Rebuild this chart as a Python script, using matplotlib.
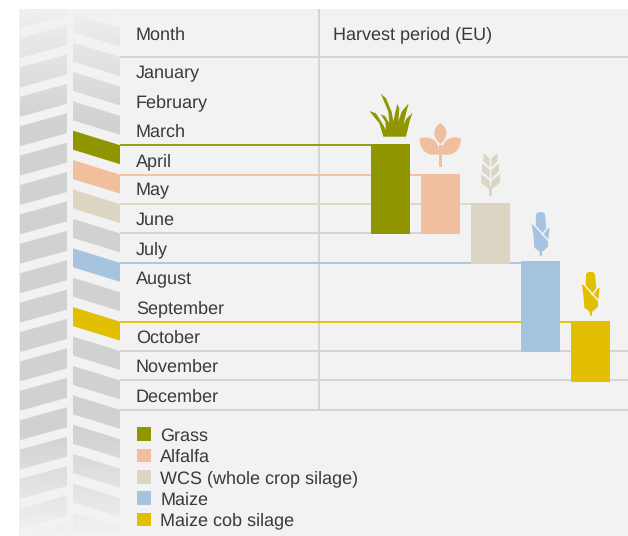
import matplotlib
matplotlib.use("Agg")
import matplotlib.pyplot as plt
import numpy as np
from matplotlib.patches import Polygon, Rectangle, PathPatch
from matplotlib.path import Path

plt.rcParams['font.family'] = ['Liberation Sans', 'DejaVu Sans']
plt.rcParams['text.hinting'] = 'none'
plt.rcParams['text.hinting_factor'] = 1

months = ["January", "February", "March", "April", "May", "June", "July",
          "August", "September", "October", "November", "December"]
crops = ["Grass", "Alfalfa", "WCS (whole crop silage)", "Maize", "Maize cob silage"]
harvest_start = [2.97, 3.97, 4.97, 6.95, 8.97]   # month position (0 = start of January)
harvest_end = [6.03, 6.03, 7.03, 10.03, 11.05]
line_month = [3, 4, 5, 7, 9]
colors = ["#8f9600", "#f2bf9e", "#ddd5c3", "#a6c4e0", "#e2bf00"]
grey_rules = [0, 10, 11, 12]
short_rule = 6
header = ["Month", "Harvest period (EU)"]

PANEL = "#f2f2f2"
RULE = "#d2d2d2"
TXT = "#3a3a3a"
FS = 12.9

W, H = 628, 536
fig = plt.figure(figsize=(W / 100, H / 100), dpi=100, facecolor="white")

# pixel axes for decoration
px = fig.add_axes([0, 0, 1, 1], zorder=1)
px.set_xlim(0, W); px.set_ylim(H, 0); px.axis("off")
panel = Rectangle((19, 9), W - 19, H - 9, fc=PANEL, ec="none", zorder=0)
px.add_patch(panel)

# chevrons
PITCH = 29.4
for k in range(-1, 19):
    t = 25 + PITCH * k
    p = Polygon([(20, t + 13), (67, t), (67, t + 20), (20, t + 33)],
                fc="#d0d2d1", ec="none", zorder=1)
    px.add_patch(p)
    p.set_clip_path(panel)
band_color = {line_month[i]: colors[i] for i in range(5)}
for m in range(-1, 18):
    t = 57 + PITCH * m
    c = band_color.get(m, "#d0d2d1")
    p = Polygon([(73, t - 14.5), (120, t), (120, t + 19), (73, t + 4.5)],
                fc=c, ec="none", zorder=2 if m in band_color else 1)
    px.add_patch(p)
    p.set_clip_path(panel)

# fade of the chevrons at top and bottom
def fade(y0, y1, a0, a1):
    rgba = np.ones((64, 1, 4))
    rgba[..., :3] = 0xf2 / 255
    rgba[..., 3] = np.linspace(a0, a1, 64)[:, None]
    px.imshow(rgba, extent=(19, 120, y1, y0), aspect="auto", zorder=1.5,
              interpolation="bilinear")
fade(9, 125, 0.95, 0.0)
fade(430, 536, 0.0, 1.0)
px.set_xlim(0, W); px.set_ylim(H, 0)

# vertical rule
px.plot([319, 319], [9, 410], color=RULE, lw=1.3, zorder=2, solid_capstyle="butt")

# icons ------------------------------------------------------------------
def Z(ox, oy, pts):
    return [(ox + x / 3, oy + y / 3) for x, y in pts]

grass = [(100,170),(88,130),(58,93),(78,100),(100,135),(108,150),(106,125),(92,103),
         (105,108),(118,130),(115,95),(92,40),(108,55),(125,95),(130,125),(135,100),
         (142,72),(148,85),(145,125),(155,95),(176,70),(168,100),(160,135),(170,115),
         (188,98),(180,120),(168,170)]
px.add_patch(Polygon(Z(350, 80, grass), fc=colors[0], ec="none", zorder=3))

def bez(ox, oy, pts, fc):
    verts = Z(ox, oy, pts)
    codes = [Path.MOVETO] + [Path.CURVE4] * (len(pts) - 1)
    px.add_patch(PathPatch(Path(verts, codes), fc=fc, ec="none", zorder=3))

bez(350, 80, [(271,192),(245,170),(248,145),(271,129),(294,145),(297,170),(271,192)], colors[1])
bez(350, 80, [(267,222),(238,232),(206,212),(210,175),(240,165),(270,182),(267,222)], colors[1])
bez(350, 80, [(275,222),(304,232),(336,212),(332,175),(302,165),(272,182),(275,222)], colors[1])
px.add_patch(Polygon(Z(350, 80, [(268,195),(275,195),(275,260),(268,260)]), fc=colors[1], ec="none", zorder=3))

for a, b, c, d in [((401,219),(419,236),(419,262),(400,243)),
                   ((397,250),(419,271),(419,295),(396,274)),
                   ((394,282),(419,304),(419,328),(393,308))]:
    px.add_patch(Polygon(Z(350, 80, [a, b, c, d]), fc=colors[2], ec="none", zorder=3))
    m = [(843 - p_[0], p_[1]) for p_ in (a, b, c, d)]
    px.add_patch(Polygon(Z(350, 80, m), fc=colors[2], ec="none", zorder=3))
px.add_patch(Polygon(Z(350, 80, [(418,318),(425,318),(425,348),(418,348)]), fc=colors[2], ec="none", zorder=3))

cob = [(108,42),(115,36),(128,36),(135,42),(139,86),(149,83),(144,125),(144,140),(130,153),
       (126,155),(126,167),(119,167),(119,155),(103,143),(100,105),(95,72),(107,80)]
for ox, oy, c in [(500, 200, colors[3]), (550, 260, colors[4])]:
    px.add_patch(Polygon(Z(ox, oy, cob), fc=c, ec="none", zorder=3))
    for seg in ([(97,68),(147,124)], [(127,104),(142,84)]):
        xy = np.array(Z(ox, oy, seg))
        px.plot(xy[:, 0], xy[:, 1], color=PANEL, lw=1.1, zorder=3.5)

# data axes: x = crop index, y = month position ---------------------------
ax = fig.add_axes([0, 0, 1, 1], zorder=2)
ax.patch.set_alpha(0)
ax.axis("off")
x0, dx = 390.5, 50.0
ax.set_xlim((0 - x0) / dx, (W - x0) / dx)
ax.set_ylim((H - 57) / PITCH, (0 - 57) / PITCH)
BAR_W = 0.78
left_edge = (120 - x0) / dx
right_edge = (W - x0) / dx

for m in grey_rules:
    ax.hlines(m, left_edge, right_edge, color=RULE, lw=1.3, zorder=1)
ax.hlines(short_rule, left_edge, 1, color=RULE, lw=1.3, zorder=1)
for i, (s, c) in enumerate(zip(line_month, colors)):
    ax.hlines(s, left_edge, i, color=c, lw=1.3, zorder=2)
ax.bar(range(len(crops)), np.subtract(harvest_end, harvest_start), bottom=harvest_start,
       width=BAR_W, color=colors, zorder=3, linewidth=0)

text_x = (136 - x0) / dx
for i, name in enumerate(months):
    ax.text(text_x, i + 0.5 + 0.06, name, fontsize=FS, color=TXT, va="center", ha="left")
ax.text(text_x, (35 - 57) / PITCH, header[0], fontsize=FS, color=TXT, va="center", ha="left")
ax.text((333 - x0) / dx, (35 - 57) / PITCH, header[1], fontsize=FS, color=TXT, va="center", ha="left")

handles = [Rectangle((0, 0), 1, 1, fc=c, ec="none") for c in colors]
ax.legend(handles, crops, loc="upper left", bbox_to_anchor=(137 / W, 1 - 427.5 / H),
          bbox_transform=fig.transFigure, frameon=False, fontsize=FS,
          labelcolor=TXT, borderpad=0, borderaxespad=0, handlelength=0.8,
          handleheight=0.8, handletextpad=0.5, labelspacing=0.25)

fig.savefig("out.png", dpi=100, facecolor="white")
